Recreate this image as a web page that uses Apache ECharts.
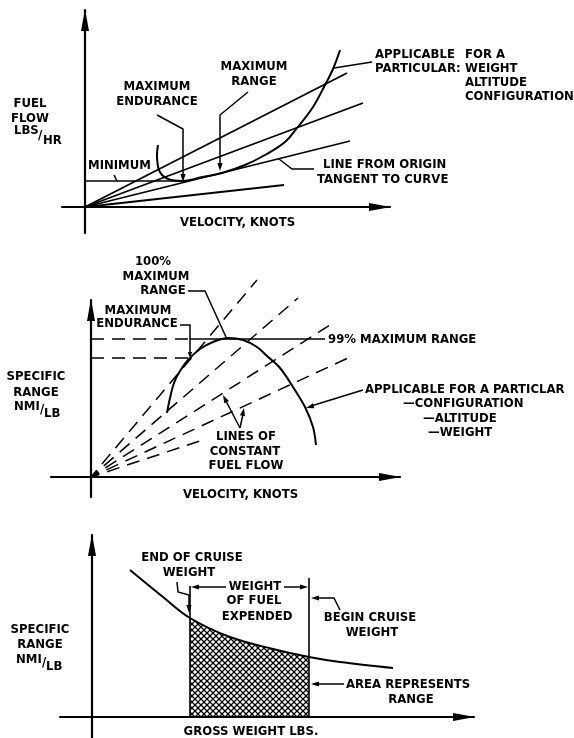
<!DOCTYPE html>
<html>
<head>
<meta charset="utf-8">
<script src="https://cdn.jsdelivr.net/npm/echarts/dist/echarts.min.js"></script>
<style>
html,body{margin:0;padding:0;background:#fff;}
#chart{width:574px;height:738px;}
</style>
</head>
<body>
<div id="chart"></div>
<script>
// ---------- Panel 1: fuel flow vs velocity ----------
const p1CurveVelocity = [73, 72, 72.5, 74, 77, 82, 89, 98, 115, 137, 160, 180, 200, 212, 228, 240, 248, 255];
const p1CurveFuelFlow = [62, 52, 44, 37, 32, 28.5, 26.5, 26, 29.5, 34, 42, 52, 65, 79, 100, 122, 138, 157];
const p1RayEndVelocity = [262, 278, 265, 199];
const p1RayEndFuelFlow = [134, 104, 66, 22];
const p1MinimumFuelFlow = 26;
const p1MinimumLineEnd = 102;

// ---------- Panel 2: specific range vs velocity ----------
const p2CurveVelocity = [76, 79, 83, 89, 97, 109, 122, 137, 152, 166, 176, 189, 202, 214, 222, 225];
const p2CurveRange = [64, 79, 94, 106, 117, 128, 135, 139, 137, 130, 121, 109, 90, 70, 50, 32];
const p2RayEndVelocity = [166, 207, 239, 257, 112];
const p2RayEndRange = [197, 179, 152, 119, 37];
const p2MaxRange = 138;
const p2EnduranceRange = 119;
const p2EnduranceVelocity = 99;
const p2NinetyNineLineEnd = 234;

// ---------- Panel 3: specific range vs gross weight ----------
const p3Weight = [38, 71, 98, 138, 181, 217, 248, 301];
const p3Range = [147, 120, 99, 80, 68, 60, 55, 49];
const p3EndCruiseWeight = 98;
const p3BeginCruiseWeight = 217;
const p3EndMarkerTop = 131;
const p3BeginMarkerTop = 139;

const chart = echarts.init(document.getElementById('chart'), null, {renderer: 'canvas'});

// cross-hatch pattern
const pc = document.createElement('canvas');
pc.width = 6; pc.height = 6;
const g = pc.getContext('2d');
g.strokeStyle = '#000'; g.lineWidth = 1.25;
g.beginPath(); g.moveTo(0, 0); g.lineTo(6, 6); g.moveTo(6, 0); g.lineTo(0, 6); g.stroke();

const grids = [
  {left: 62, top: 10, width: 328, height: 223},
  {left: 51, top: 300, width: 349, height: 197},
  {left: 60, top: 535, width: 414, height: 203}
];
const xRanges = [[-23, 305], [-40, 309], [-32, 382]];
const yRanges = [[-26, 197], [-20, 177], [-21, 182]];

function axis(gi, r) {
  return {
    gridIndex: gi, type: 'value', min: r[0], max: r[1],
    axisLine: {onZero: true, lineStyle: {color: '#000', width: 2.2},
      symbol: ['none', 'triangle'], symbolSize: [8, 22], symbolOffset: [0, -10]},
    axisTick: {show: false}, axisLabel: {show: false}, splitLine: {show: false}
  };
}

function line(gi, xs, ys, extra) {
  return Object.assign({
    type: 'line', xAxisIndex: gi, yAxisIndex: gi,
    data: xs.map((x, i) => [x, ys[i]]),
    symbol: 'none', silent: true, animation: false,
    lineStyle: {color: '#000', width: 2}
  }, extra || {});
}

const series = [];
// panel 1
series.push(line(0, p1CurveVelocity, p1CurveFuelFlow, {smooth: 0.4}));
p1RayEndVelocity.forEach((v, i) => series.push(line(0, [0, v], [0, p1RayEndFuelFlow[i]], {lineStyle: {color: '#000', width: 1.8}})));
series.push(line(0, [0, p1MinimumLineEnd], [p1MinimumFuelFlow, p1MinimumFuelFlow], {lineStyle: {color: '#000', width: 1.5}}));
// panel 2
series.push(line(1, p2CurveVelocity, p2CurveRange, {smooth: 0.35}));
p2RayEndVelocity.forEach((v, i) => series.push(line(1, [0, v], [0, p2RayEndRange[i]], {clip: false, lineStyle: {color: '#000', width: 1.5, type: [13, 8], dashOffset: 4}})));
series.push(line(1, [0, p2EnduranceVelocity], [p2MaxRange, p2MaxRange], {lineStyle: {color: '#000', width: 1.5, type: [13, 8]}}));
series.push(line(1, [0, p2EnduranceVelocity], [p2EnduranceRange, p2EnduranceRange], {lineStyle: {color: '#000', width: 1.5, type: [13, 8]}}));
series.push(line(1, [p2EnduranceVelocity, p2NinetyNineLineEnd], [p2MaxRange, p2MaxRange], {lineStyle: {color: '#000', width: 1.6}}));
// panel 3
const areaX = [], areaY = [];
p3Weight.forEach((w, i) => { if (w >= p3EndCruiseWeight && w <= p3BeginCruiseWeight) { areaX.push(w); areaY.push(p3Range[i]); } });
series.push(line(2, areaX, areaY, {smooth: 0.35, lineStyle: {width: 0}, areaStyle: {color: {image: pc, repeat: 'repeat'}, opacity: 1}}));
series.push(line(2, p3Weight, p3Range, {smooth: 0.35}));
series.push(line(2, [p3EndCruiseWeight, p3EndCruiseWeight], [0, p3EndMarkerTop], {lineStyle: {color: '#000', width: 1.6}}));
series.push(line(2, [p3BeginCruiseWeight, p3BeginCruiseWeight], [0, p3BeginMarkerTop], {lineStyle: {color: '#000', width: 1.6}}));

// ---------- annotations ----------
const FONT = 'bold 11.7px "DejaVu Sans"';
function T(s, x, y, a) {
  return {type: 'text', x: x, y: y, silent: true, z: 100,
    style: {text: s, font: FONT, fill: '#000', align: a || 'left', verticalAlign: 'middle'}};
}
function PL(pts, w) {
  return {type: 'polyline', silent: true, z: 100, shape: {points: pts},
    style: {stroke: '#000', lineWidth: w || 1.5, fill: null}};
}
function AH(tip, from, len, hw) {
  len = len || 8; hw = hw || 2.6;
  const dx = tip[0] - from[0], dy = tip[1] - from[1];
  const L = Math.hypot(dx, dy), ux = dx / L, uy = dy / L;
  const bx = tip[0] - ux * len, by = tip[1] - uy * len;
  return {type: 'polygon', silent: true, z: 100,
    shape: {points: [tip, [bx - uy * hw, by + ux * hw], [bx + uy * hw, by - ux * hw]]},
    style: {fill: '#000'}};
}

const graphics = [
  // panel 1
  T('FUEL', 30, 104, 'center'), T('FLOW', 30, 119, 'center'), T('LBS', 14, 131), T('/', 38, 136), T('HR', 43, 141),
  T('MINIMUM', 88, 166), PL([[114, 175], [117, 181]]),
  T('MAXIMUM', 157, 87, 'center'), T('ENDURANCE', 157, 102, 'center'),
  PL([[157, 115], [183, 129], [183, 176]]), AH([183, 182], [183, 170]),
  T('MAXIMUM', 254, 67, 'center'), T('RANGE', 254, 82, 'center'),
  PL([[248, 92], [220, 115], [220, 165]]), AH([220, 171], [220, 160]),
  T('APPLICABLE', 375, 55), T('FOR A', 465, 55), T('PARTICULAR:', 375, 69), T('WEIGHT', 465, 69),
  T('ALTITUDE', 465, 83), T('CONFIGURATION', 465, 97),
  PL([[372, 62], [334, 68]]),
  T('LINE FROM ORIGIN', 323, 165), T('TANGENT TO CURVE', 317, 180),
  PL([[279, 159], [292, 169], [314, 169]]),
  T('VELOCITY, KNOTS', 180, 223),
  // panel 2
  T('100%', 153, 262, 'center'), T('MAXIMUM', 156, 277, 'center'), T('RANGE', 163, 291, 'center'),
  PL([[188, 291], [205, 291], [226, 337]]),
  T('MAXIMUM', 138, 311, 'center'), T('ENDURANCE', 137, 324, 'center'),
  PL([[180, 325], [190, 325], [190, 353]]), AH([190, 358], [190, 350], 6, 2.2),
  T('99% MAXIMUM RANGE', 328, 340),
  T('APPLICABLE FOR A PARTICLAR', 365, 390),
  PL([[363, 390], [311, 406]]), AH([306, 408], [316, 405]),
  T('\u2014CONFIGURATION', 403, 404), T('\u2014ALTITUDE', 423, 419), T('\u2014WEIGHT', 428, 433),
  T('LINES OF', 246, 437, 'center'), T('CONSTANT', 245, 452, 'center'), T('FUEL FLOW', 246, 466, 'center'),
  PL([[240, 428], [226, 401]]), AH([223, 395], [228, 405]),
  PL([[240, 428], [243, 414]]), AH([244, 408], [242, 418]),
  T('SPECIFIC', 36, 377, 'center'), T('RANGE', 36, 393, 'center'), T('NMI', 14, 407), T('/', 40, 410), T('LB', 44, 414),
  T('VELOCITY, KNOTS', 183, 495),
  // panel 3
  T('END OF CRUISE', 192, 558, 'center'), T('WEIGHT', 189, 573, 'center'),
  PL([[177, 582], [178, 592], [189, 595], [189, 607]]), AH([189, 613], [189, 604]),
  PL([[226, 587], [196, 587]]), AH([191, 587], [199, 587]),
  PL([[284, 587], [303, 587]]), AH([308, 587], [300, 587]),
  T('WEIGHT', 255, 587, 'center'), T('OF FUEL', 254, 601, 'center'), T('EXPENDED', 257, 617, 'center'),
  T('BEGIN CRUISE', 370, 618, 'center'), T('WEIGHT', 372, 633, 'center'),
  PL([[340, 610], [334, 598], [316, 598]]), AH([311, 598], [319, 598]),
  T('AREA REPRESENTS', 346, 685), T('RANGE', 411, 700, 'center'),
  PL([[344, 684], [316, 684]]), AH([311, 684], [319, 684]),
  T('SPECIFIC', 40, 630, 'center'), T('RANGE', 40, 645, 'center'), T('NMI', 16, 660), T('/', 42, 663), T('LB', 46, 667),
  T('GROSS WEIGHT LBS.', 251, 732, 'center')
];

chart.setOption({
  backgroundColor: '#fff',
  animation: false,
  grid: grids,
  xAxis: xRanges.map((r, i) => axis(i, r)),
  yAxis: yRanges.map((r, i) => axis(i, r)),
  series: series,
  graphic: graphics
});
</script>
</body>
</html>
